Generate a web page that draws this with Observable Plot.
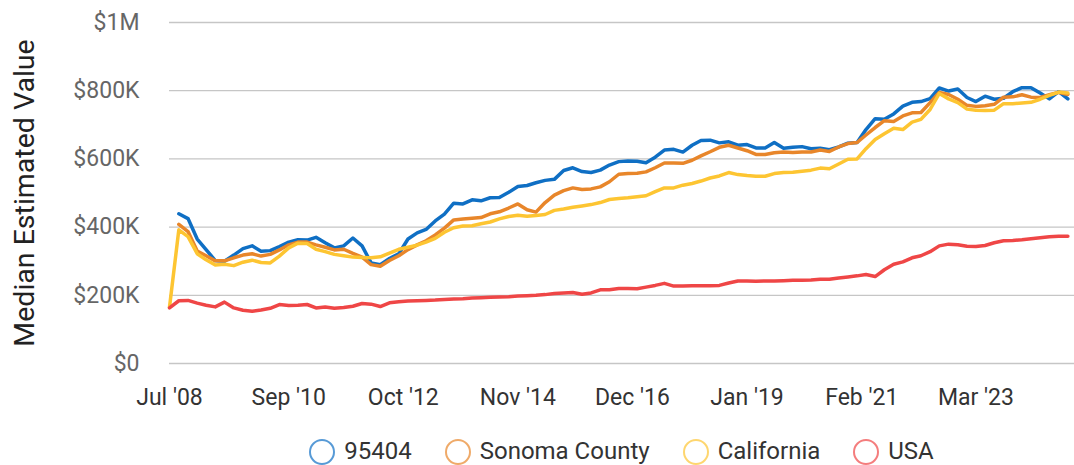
<!DOCTYPE html>
<html><head><meta charset="utf-8">
<script src="https://cdn.jsdelivr.net/npm/d3@7"></script>
<script src="https://cdn.jsdelivr.net/npm/@observablehq/plot@0.6"></script>
<style>
html,body{margin:0;padding:0;background:#fff;overflow:hidden}
body{width:1074px;height:465px;font-family:Roboto,sans-serif}
#legend{display:flex;justify-content:center;gap:33px;margin-left:169px;width:905px;padding-top:8px}
.item{display:flex;align-items:center;font-size:24px;color:#333;line-height:27px}
.ring{width:22px;height:22px;border:2.5px solid;border-radius:50%;margin-right:9px;box-sizing:content-box;opacity:.7}
</style></head><body><div id="chart"></div><div id="legend"></div>
<script>
// Dates: Jul 2008, then every second month from Aug 2008 to Dec 2024
const months = [new Date(Date.UTC(2008, 6, 1))].concat(
  d3.utcMonth.every(2).range(new Date(Date.UTC(2008, 7, 1)), new Date(Date.UTC(2025, 0, 1)))
);

const seriesNames = ["95404", "Sonoma County", "California", "USA"];
const seriesColors = ["#0f6fc4", "#e8862a", "#fdc532", "#ef4646"];

// values in $K
const zip95404 = [null,
  439,425,365,334,302,300,318,337,345,329,
  331,343,356,363,362,370,354,339,345,368,
  345,295,290,308,322,365,383,393,418,438,
  470,468,480,477,486,487,502,519,522,530,
  537,540,566,574,563,560,567,582,592,594,
  593,589,605,626,628,620,640,654,655,647,
  650,640,642,632,632,648,631,634,636,630,
  631,627,635,646,648,686,718,716,732,755,
  766,768,777,808,799,805,780,768,784,775,
  778,797,809,809,793,776,797,776,767];
const sonoma = [null,
  408,387,330,316,301,301,310,318,322,315,
  320,333,348,356,356,348,341,333,335,323,
  312,290,285,302,316,334,348,360,377,397,
  421,424,426,428,439,445,456,468,451,444,
  472,494,507,515,510,512,518,533,555,557,
  558,562,574,588,588,587,596,609,621,634,
  640,632,624,613,613,618,620,619,620,620,
  626,622,635,645,648,670,692,712,710,726,
  735,736,765,795,789,775,757,754,756,760,
  781,782,788,781,780,788,795,789,786];
const california = [165,
  392,372,322,304,289,291,287,297,303,296,
  295,315,339,353,352,335,328,320,316,312,
  311,310,313,324,335,341,347,356,367,385,
  398,403,404,410,415,424,431,435,432,434,
  437,449,453,458,462,466,472,481,484,486,
  489,492,504,515,515,523,528,535,544,550,
  560,554,551,549,549,557,560,561,564,567,
  573,571,585,599,600,630,657,674,690,686,
  708,716,745,792,776,765,746,743,742,743,
  762,762,764,766,775,786,796,793,791];
const usa = [163,
  184,185,177,171,166,180,163,156,153,157,
  162,173,170,171,173,163,166,162,164,168,
  176,174,167,178,181,183,184,185,186,188,
  189,190,192,193,194,195,196,198,199,200,
  202,205,207,208,203,207,216,216,220,220,
  219,224,229,235,227,227,228,228,228,229,
  236,242,242,241,242,242,243,244,244,245,
  247,247,251,254,257,261,255,275,291,298,
  310,316,328,345,350,348,344,343,346,354,
  360,361,363,366,369,372,373,373,370];

const yTicks = [0, 200000, 400000, 600000, 800000, 1000000];
const xTickLabels = ["2008-07", "2010-09", "2012-10", "2014-11", "2016-12", "2019-01", "2021-02", "2023-03"];
const xTicks = xTickLabels.map(s => new Date(s + "-01T00:00:00Z"));

const allValues = [zip95404, sonoma, california, usa];
const data = allValues.flatMap((vals, si) =>
  vals.map((v, i) => v == null ? null : {date: months[i], value: v * 1000, name: seriesNames[si]})
).filter(d => d);

const yFmt = v => v === 0 ? "$0" : v >= 1e6 ? `$${v / 1e6}M` : `$${v / 1000}K`;

const chart = Plot.plot({
  width: 1074, height: 430,
  marginLeft: 169, marginRight: 0, marginTop: 22, marginBottom: 67,
  style: {fontFamily: "Roboto, sans-serif", background: "#fff"},
  x: {type: "utc", domain: [new Date(Date.UTC(2008, 6, 1)), new Date(Date.UTC(2024, 11, 15))]},
  y: {domain: [0, 1e6]},
  color: {domain: seriesNames, range: seriesColors},
  marks: [
    Plot.gridY({ticks: yTicks, stroke: "#c6c6c6", strokeOpacity: 1, strokeWidth: 1.3}),
    Plot.axisY({ticks: yTicks, tickSize: 0, tickPadding: 30, tickFormat: yFmt, color: "#666", fontSize: 23, label: null}),
    Plot.axisX({ticks: xTicks, tickSize: 0, tickPadding: 25, tickFormat: d3.utcFormat("%b '%y"), color: "#333", fontSize: 23, label: null}),
    Plot.text(["Median Estimated Value"], {frameAnchor: "left", textAnchor: "middle", lineAnchor: "middle", dx: -145, rotate: -90, fontSize: 28.5, fill: "#222"}),
    ...seriesNames.map(n => Plot.line(data.filter(d => d.name === n), {x: "date", y: "value", stroke: "name", strokeWidth: 3.5, curve: "linear"}))
  ]
});
document.getElementById("chart").append(chart);

const legend = document.getElementById("legend");
seriesNames.forEach((n, i) => {
  const item = document.createElement("div");
  item.className = "item";
  const ring = document.createElement("span");
  ring.className = "ring";
  ring.style.borderColor = seriesColors[i];
  const label = document.createElement("span");
  label.textContent = n;
  item.append(ring, label);
  legend.append(item);
});
</script></body></html>
